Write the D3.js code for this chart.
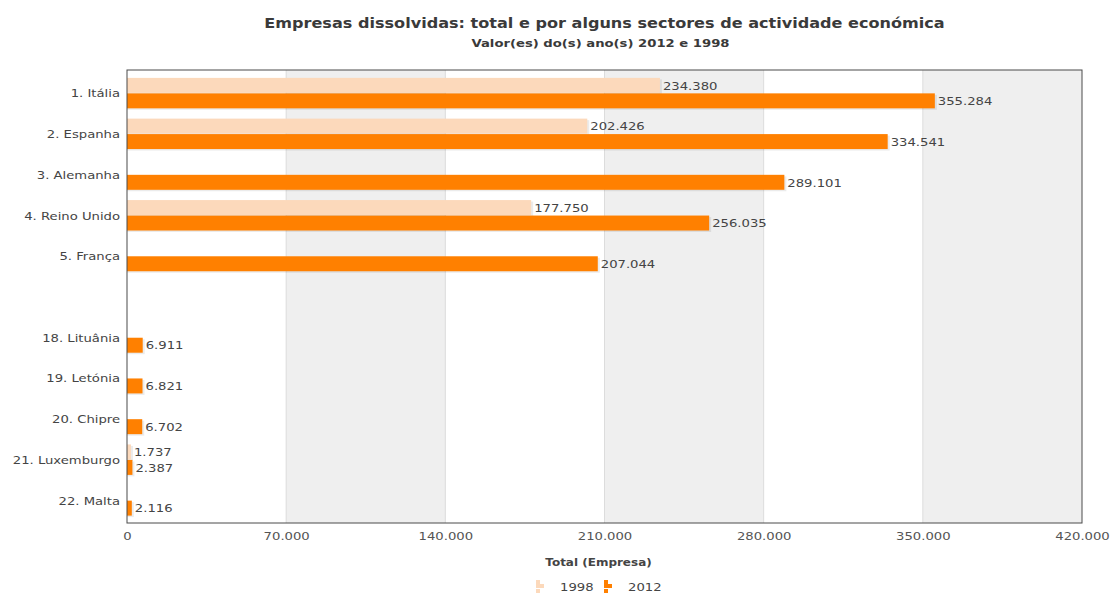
<!DOCTYPE html>
<html>
<head>
<meta charset="utf-8">
<script src="https://cdn.jsdelivr.net/npm/d3@7"></script>
<style>
  body { margin: 0; background: #fff; }
  text { font-family: "DejaVu Sans", Verdana, sans-serif; }
</style>
</head>
<body>
<div id="chart"></div>
<script>
// categories (the empty one is the gap between top 5 and bottom 5)
const paises = ['1. Itália', '2. Espanha', '3. Alemanha', '4. Reino Unido', '5. França', '',
                '18. Lituânia', '19. Letónia', '20. Chipre', '21. Luxemburgo', '22. Malta']
const anos = ['1998', '2012']
const valores1998 = [234380, 202426, null, 177750, null, null, null, null, null, 1737, null]
const valores2012 = [355284, 334541, 289101, 256035, 207044, null, 6911, 6821, 6702, 2387, 2116]
const xTicks = [0, 70000, 140000, 210000, 280000, 350000, 420000]

const cores = { '1998': '#fcd9bb', '2012': '#ff8000' }

const W = 1111, H = 596
const margin = { top: 70, right: 29, bottom: 73, left: 127 }
const width = W - margin.left - margin.right
const height = H - margin.top - margin.bottom
const centro = margin.left + width / 2

const pt = d3.formatLocale({ decimal: ',', thousands: '.', grouping: [3], currency: ['', '€'] })
const fmt = pt.format(',d')

const svg = d3.select('#chart').append('svg')
    .attr('width', W)
    .attr('height', H)

svg.append('text')
    .attr('x', centro).attr('y', 28)
    .attr('text-anchor', 'middle')
    .style('font-size', '13.4px').style('font-weight', 'bold').style('fill', '#3a3a3a')
    .text('Empresas dissolvidas: total e por alguns sectores de actividade económica')

svg.append('text')
    .attr('x', centro - 4).attr('y', 47)
    .attr('text-anchor', 'middle')
    .style('font-size', '11px').style('font-weight', 'bold').style('fill', '#3a3a3a')
    .text('Valor(es) do(s) ano(s) 2012 e 1998')

const g = svg.append('g')
    .attr('transform', 'translate(' + margin.left + ',' + margin.top + ')')

const x = d3.scaleLinear().domain([0, 420000]).range([0, width])

const y = d3.scaleBand()
    .domain(paises.map((p, i) => i))
    .range([3, height - 2])
    .paddingInner(0.24)
    .paddingOuter(0.12)

const ySerie = d3.scaleBand().domain(anos).range([0, y.bandwidth()])

// alternating bands
for (let i = 0; i < xTicks.length - 1; i++) {
    if (i % 2 === 1) {
        g.append('rect')
            .attr('x', x(xTicks[i])).attr('y', 0)
            .attr('width', x(xTicks[i + 1]) - x(xTicks[i]))
            .attr('height', height)
            .style('fill', '#efefef')
    }
}
g.selectAll('.grid').data(xTicks.slice(1, -1)).enter().append('line')
    .attr('x1', d => x(d)).attr('x2', d => x(d))
    .attr('y1', 0).attr('y2', height)
    .style('stroke', '#dcdcdc')

const linhas = paises.map((p, i) => ({ pais: p, i: i, '1998': valores1998[i], '2012': valores2012[i] }))

const barras = []
linhas.forEach(l => anos.forEach(a => { if (l[a] != null) barras.push({ i: l.i, ano: a, v: l[a] }) }))

// shadow
g.selectAll('.sombra').data(barras).enter().append('rect')
    .attr('x', 0)
    .attr('y', d => y(d.i) + ySerie(d.ano) + 1.5)
    .attr('width', d => x(d.v) + 2)
    .attr('height', ySerie.bandwidth() - 0.5)
    .style('fill', '#000').style('opacity', 0.08)

g.selectAll('.barra').data(barras).enter().append('rect')
    .attr('x', 0)
    .attr('y', d => y(d.i) + ySerie(d.ano))
    .attr('width', d => x(d.v))
    .attr('height', ySerie.bandwidth() - 0.5)
    .style('fill', d => cores[d.ano])

g.selectAll('.valor').data(barras).enter().append('text')
    .attr('x', d => x(d.v) + 3)
    .attr('y', d => y(d.i) + ySerie(d.ano) + ySerie.bandwidth() / 2 + 4)
    .style('font-size', '11px').style('fill', '#444')
    .text(d => fmt(d.v))

// category labels
g.selectAll('.cat').data(linhas).enter().append('text')
    .attr('x', -7)
    .attr('y', d => y(d.i) + y.bandwidth() / 2 + 4)
    .attr('text-anchor', 'end')
    .style('font-size', '11px').style('fill', '#444')
    .text(d => d.pais)

// frame
g.append('rect')
    .attr('x', 0).attr('y', 0).attr('width', width).attr('height', height)
    .style('fill', 'none').style('stroke', '#4a4a4a')

const eixo = g.append('g')
    .attr('transform', 'translate(0,' + height + ')')
    .call(d3.axisBottom(x).tickValues(xTicks).tickFormat(fmt).tickSize(0).tickPadding(9))
eixo.select('.domain').remove()
eixo.selectAll('text')
    .style('font-family', '"DejaVu Sans", Verdana, sans-serif')
    .style('font-size', '11px').style('fill', '#555')

svg.append('text')
    .attr('x', centro - 6).attr('y', 566)
    .attr('text-anchor', 'middle')
    .style('font-size', '10px').style('font-weight', 'bold').style('fill', '#444')
    .text('Total (Empresa)')

// legend
const leg = svg.append('g').attr('transform', 'translate(536,580)')
const itens = leg.selectAll('.item').data(anos).enter().append('g')
    .attr('transform', (d, i) => 'translate(' + (i * 68) + ',0)')
itens.each(function (d) {
    const it = d3.select(this)
    ;[[0, 4], [4, 8], [9, 4]].forEach(([yy, w]) => {
        it.append('rect').attr('x', 0).attr('y', yy).attr('width', w).attr('height', 4)
            .style('fill', cores[d])
    })
    it.append('text').attr('x', 24).attr('y', 11)
        .style('font-size', '11px').style('fill', '#444').text(d)
})

// the original text is drawn wider than it is tall: stretch every label sideways
svg.selectAll('text').each(function () {
    const t = d3.select(this)
    const tx = +t.attr('x') || 0, ty = +t.attr('y') || 0
    t.attr('x', null).attr('y', null)
        .attr('transform', 'translate(' + tx + ',' + ty + ') scale(1.2,1)')
})
</script>
</body>
</html>
